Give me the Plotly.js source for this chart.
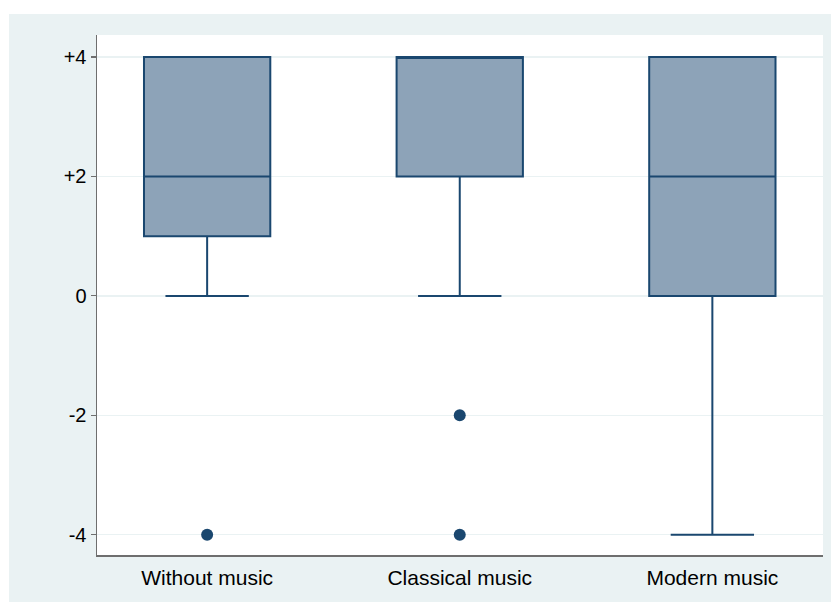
<!DOCTYPE html>
<html>
<head>
<meta charset="utf-8">
<script src="https://cdn.plot.ly/plotly-3.0.1.min.js"></script>
<style>
html,body{margin:0;padding:0;background:#ffffff;width:831px;height:603px;overflow:hidden;}
#chart{position:absolute;left:9px;top:14px;width:822px;height:588px;}
</style>
</head>
<body>
<div id="chart"></div>
<script>
const categories = ["Without music", "Classical music", "Modern music"];
const q1 = [1, 2, 0];
const median = [2, 4, 2];
const q3 = [4, 4, 4];
const lowerFence = [0, 0, -4];
const upperFence = [4, 4, 4];
const outlierCategories = ["Without music", "Classical music", "Classical music"];
const outlierValues = [-4, -2, -4];
const tickValues = [-4, -2, 0, 2, 4];
const tickLabels = ["-4", "-2", "0", "+2", "+4"];

const navy = "#1A476F";

const traces = [
  {
    type: "box",
    x: categories,
    q1: q1,
    median: median,
    q3: q3,
    lowerfence: lowerFence,
    upperfence: upperFence,
    boxpoints: false,
    width: 0.5,
    whiskerwidth: 0.66,
    fillcolor: "#8DA3B8",
    line: {color: navy, width: 2},
    hoverinfo: "skip",
    showlegend: false
  },
  {
    type: "scatter",
    mode: "markers",
    x: outlierCategories,
    y: outlierValues,
    marker: {color: navy, size: 12},
    hoverinfo: "skip",
    showlegend: false
  }
];

const layout = {
  width: 822,
  height: 588,
  paper_bgcolor: "#EAF2F3",
  plot_bgcolor: "#ffffff",
  margin: {l: 88, r: 8, t: 21, b: 46.5, pad: 0},
  font: {family: "Liberation Sans, Arial, sans-serif", size: 20, color: "#000000"},
  showlegend: false,
  xaxis: {
    type: "category",
    range: [-0.436, 2.438],
    showgrid: false,
    showline: true,
    linecolor: "#6e6e6e",
    linewidth: 1.5,
    ticks: "outside",
    ticklen: 3,
    tickcolor: "rgba(0,0,0,0)",
    tickfont: {size: 21, color: "#000000"},
    zeroline: false,
    fixedrange: true
  },
  yaxis: {
    range: [-4.34, 4.37],
    tickvals: tickValues,
    ticktext: tickLabels,
    showgrid: true,
    gridcolor: "#EAF2F3",
    gridwidth: 1.5,
    showline: true,
    linecolor: "#6e6e6e",
    linewidth: 1.5,
    ticks: "outside",
    ticklen: 5,
    tickwidth: 1.2,
    tickcolor: "#6e6e6e",
    tickfont: {size: 20, color: "#000000"},
    zeroline: false,
    fixedrange: true
  }
};

Plotly.newPlot("chart", traces, layout, {displayModeBar: false, staticPlot: true});
</script>
</body>
</html>
